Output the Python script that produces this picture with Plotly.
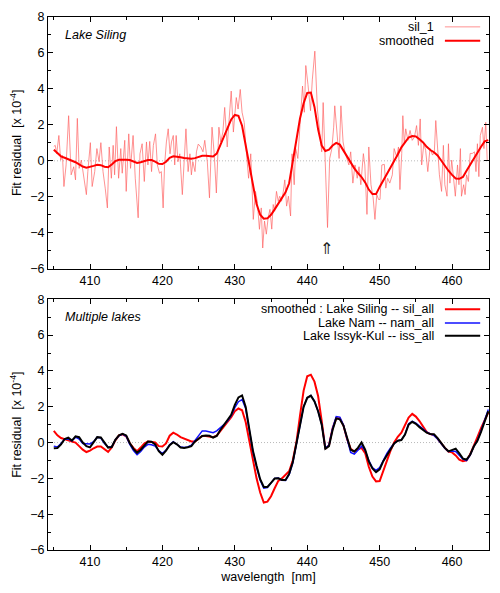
import numpy as np
import plotly.graph_objects as go

# ---- data ----
# raw fit residual, Lake Siling (sil_1), units of 1e-4
raw_wl = [405.0, 405.2, 405.4, 405.7, 405.95, 406.2, 406.4, 406.7, 407.05, 407.4, 407.75, 408.0, 408.25,
          408.5, 408.8, 409.2, 409.5, 409.7, 410.05, 410.3, 410.65, 410.95, 411.25, 411.5, 411.8, 412.1,
          412.4, 412.65, 412.95, 413.2, 413.4, 413.65, 413.95, 414.25, 414.45, 414.8, 415.0, 415.35, 415.6,
          415.95, 416.25, 416.65, 416.9, 417.2, 417.5, 417.8, 418.0, 418.25, 418.5, 418.75, 419.05, 419.3,
          419.6, 419.85, 420.1, 420.3, 420.55, 420.8, 421.05, 421.25, 421.5, 421.7, 421.9, 422.15, 422.4,
          422.75, 423.1, 423.25, 423.55, 423.8, 424.0, 424.2, 424.5, 424.7, 424.95, 425.3, 425.6, 425.85,
          426.2, 426.5, 426.85, 427.15, 427.45, 427.8, 428.05, 428.35, 428.6, 428.95, 429.15, 429.5, 429.8,
          430.2, 430.45, 430.75, 431.0, 431.3, 431.55, 431.9, 432.2, 432.55, 432.85, 433.1, 433.4, 433.65,
          433.85, 434.1, 434.35, 434.6, 434.85, 435.1, 435.3, 435.5, 435.75, 436.0, 436.2, 436.45, 436.7,
          436.9, 437.15, 437.4, 437.7, 437.9, 438.2, 438.4, 438.7, 438.85, 439.1, 439.35, 439.6, 439.8,
          440.1, 440.45, 440.7, 441.05, 441.4, 441.65, 442.0, 442.2, 442.45, 442.8, 443.1, 443.4, 443.65,
          443.8, 444.1, 444.4, 444.65, 444.95, 445.2, 445.5, 445.75, 446.0, 446.3, 446.6, 446.9, 447.15,
          447.4, 447.75, 447.95, 448.25, 448.5, 448.8, 449.1, 449.35, 449.6, 449.85, 450.05, 450.3, 450.65,
          450.85, 451.1, 451.4, 451.75, 452.0, 452.35, 452.6, 452.8, 453.05, 453.2, 453.4, 453.6, 453.9,
          454.2, 454.5, 454.8, 455.1, 455.35, 455.6, 455.8, 456.1, 456.35, 456.65, 456.95, 457.3, 457.55,
          457.75, 458.0, 458.25, 458.55, 458.8, 459.0, 459.3, 459.5, 459.7, 459.95, 460.2, 460.45, 460.75,
          460.95, 461.15, 461.3, 461.6, 461.8, 462.0, 462.25, 462.5, 462.8, 463.1, 463.3, 463.5, 463.7,
          463.9, 464.2, 464.4, 464.65, 464.85]
raw_val = [0.8, 0.86, 0.39, 1.41, 0.04, 0.3, -1.43, -0.23, 2.51, -0.78, -0.33, -1.06, 2.36,
           -0.42, 0.04, -0.97, -1.88, -0.6, 1.01, -1.43, -0.6, 0.68, -0.05, 1.01, -0.6, -1.52,
           -2.62, 0.77, -0.97, 0.86, -0.78, 1.9, -0.97, 0.68, -0.69, 1.14, -1.7, 1.5, -0.42,
           1.41, -0.97, -3.17, 0.39, 0.95, -1.15, 1.05, -0.23, 1.08, -0.6, 0.86, 1.5, -0.23,
           -0.69, -0.6, -2.62, -0.23, 1.05, 1.78, 0.39, 1.05, 1.41, -0.23, 1.41, -0.05, 0.39,
           -1.88, 1.05, 1.78, -0.6, 0.39, -0.78, -0.05, -0.6, 0.5, 0.93, 0.77, 0.5, 1.14,
           -0.05, -2.06, 1.87, 0.39, -1.79, 1.87, 1.05, 1.6, 2.97, 0.77, 1.96, 3.88, 1.6,
           3.52, 2.88, 3.97, 2.7, 2.14, 0.68, -0.97, 0.39, -3.26, -1.7, -2.25, -3.81, -2.62,
           -4.85, -3.35, -4.08, -3.17, -2.7, -3.8, -2.43, -2.8, -1.7, -2.25, -1.97, -2.25, -1.7,
           -1.06, -2.52, -1.97, -3.07, 0.39, -1.33, 0.68, 0.13, 1.23, 2.88, 4.16, 2.7, 5.3,
           4.24, 2.79, 4.5, 6.1, 2.88, 1.78, 0.5, 3.24, -0.23, -3.71, 0.13, 0.68, 1.87,
           3.06, 1.6, 0.13, 3.06, 1.05, 0.5, 0.13, -0.23, 0.5, -1.24, -0.23, -0.97, -0.33,
           -1.33, 0.4, -0.23, -2.98, 0.77, -1.33, -2.06, -3.26, -1.88, -2.15, -2.15, -0.23, -0.2,
           -1.52, -0.97, -1.24, -0.78, 0.68, 0.22, 0.77, -1.6, 0.41, 2.51, 0.95, 1.78, 1.14,
           1.69, 1.14, 1.32, 1.96, 0.86, 2.33, -0.23, 0.95, 0.59, -0.6, 0.68, 0.32, 0.5,
           2.24, 0.68, -0.78, -1.7, 0.86, -1.33, -1.97, 0.95, -1.24, 0.04, -0.97, -1.97, -0.23,
           -1.33, 0.68, -1.97, -1.33, -1.88, -0.78, -1.15, 0.41, 0.41, 0.5, -0.6, 0.95, -0.88,
           1.41, 1.87, 0.68, 2.14, 0.04]

# smoothed curves on a 0.5 nm grid
wl = np.round(np.arange(405.0, 465.01, 0.5), 1)

sil_1_smooth = [0.62, 0.42, 0.25, 0.17, 0.1, 0.02, -0.08, -0.2, -0.32, -0.38, -0.35, -0.28, -0.22, -0.24,
                -0.33, -0.36, -0.2, -0.02, 0.06, 0.07, 0.06, 0.04, -0.05, -0.12, -0.08, 0.0, 0.04, 0.04,
                -0.04, -0.17, -0.18, -0.05, 0.17, 0.25, 0.24, 0.2, 0.16, 0.13, 0.12, 0.15, 0.22, 0.28,
                0.28, 0.25, 0.24, 0.4, 0.85, 1.35, 1.85, 2.3, 2.55, 2.5, 1.95, 0.85, -0.35, -1.5,
                -2.4, -3.0, -3.22, -3.2, -3.0, -2.7, -2.4, -2.1, -1.75, -1.25, -0.1, 1.1, 2.35, 3.2,
                3.78, 3.8, 3.0, 1.75, 0.85, 0.55, 0.62, 0.85, 1.0, 0.9, 0.55, 0.2, -0.15, -0.42,
                -0.68, -0.9, -1.2, -1.6, -1.85, -1.85, -1.45, -1.1, -0.75, -0.4, -0.05, 0.35, 0.75, 1.05,
                1.3, 1.38, 1.36, 1.2, 1.02, 0.78, 0.6, 0.48, 0.3, 0.02, -0.3, -0.55, -0.78, -0.98,
                -1.0, -0.9, -0.55, -0.2, 0.15, 0.45, 0.78, 1.08, 1.15]

sil_all = [0.65, 0.4, 0.25, 0.2, 0.12, 0.05, 0.0, -0.2, -0.4, -0.53, -0.45, -0.32, -0.22, -0.22,
           -0.38, -0.52, -0.28, 0.12, 0.4, 0.46, 0.35, -0.04, -0.3, -0.48, -0.28, -0.05, 0.06, 0.04,
           0.0, -0.2, -0.22, -0.05, 0.38, 0.55, 0.45, 0.3, 0.22, 0.15, 0.06, 0.06, 0.24, 0.37,
           0.36, 0.33, 0.3, 0.39, 0.65, 0.92, 1.12, 1.42, 1.75, 1.9, 1.8, 1.15, 0.1, -0.95,
           -2.0, -2.79, -3.35, -3.3, -3.0, -2.55, -2.14, -2.0, -1.82, -1.6, -1.0, 0.0, 1.5, 2.9,
           3.7, 3.79, 3.4, 2.6, 1.2, -0.35, -0.15, 0.8, 1.35, 1.35, 0.95, 0.2, -0.35, -0.5,
           -0.38, -0.3, -0.59, -1.35, -1.9, -2.17, -2.15, -1.59, -0.95, -0.45, 0.0, 0.32, 0.55, 0.95,
           1.4, 1.6, 1.45, 1.2, 0.88, 0.58, 0.47, 0.42, 0.22, -0.05, -0.3, -0.5, -0.55, -0.72,
           -0.95, -1.04, -1.0, -0.66, -0.22, 0.3, 0.8, 1.25, 1.68]

nam_all = [-0.2, -0.25, -0.05, 0.18, 0.2, 0.1, 0.3, 0.2, -0.05, -0.08, -0.08, 0.05, 0.3, 0.25,
           -0.05, -0.25, -0.25, 0.15, 0.38, 0.47, 0.35, -0.1, -0.45, -0.68, -0.5, -0.25, -0.1, -0.12,
           -0.2, -0.45, -0.62, -0.42, -0.12, 0.05, -0.08, -0.25, -0.28, -0.25, -0.15, 0.12, 0.4, 0.65,
           0.65, 0.6, 0.55, 0.65, 0.8, 1.0, 1.2, 1.5, 1.95, 2.28, 2.4, 1.9, 0.7, -0.5,
           -1.35, -2.1, -2.55, -2.52, -2.25, -2.0, -1.98, -2.1, -2.12, -1.8, -1.15, -0.1, 1.15, 2.0,
           2.5, 2.62, 2.32, 1.75, 1.0, -0.3, -0.15, 0.8, 1.45, 1.42, 0.98, 0.15, -0.55, -0.65,
           -0.45, -0.2, -0.45, -1.0, -1.4, -1.55, -1.4, -0.95, -0.6, -0.3, -0.05, 0.1, 0.15, 0.45,
           1.05, 1.18, 1.08, 0.92, 0.76, 0.58, 0.48, 0.4, 0.2, -0.05, -0.32, -0.5, -0.47, -0.5,
           -0.7, -0.92, -1.0, -0.7, -0.22, 0.12, 0.65, 1.25, 1.85]

iss_all = [-0.32, -0.3, -0.1, 0.2, 0.27, 0.11, 0.35, 0.3, 0.0, -0.2, -0.27, 0.0, 0.3, 0.28,
           0.0, -0.28, -0.25, 0.15, 0.4, 0.49, 0.4, -0.04, -0.35, -0.57, -0.4, -0.15, 0.06, 0.05,
           -0.1, -0.48, -0.68, -0.45, -0.15, 0.02, -0.1, -0.28, -0.3, -0.26, -0.2, 0.06, 0.24, 0.37,
           0.4, 0.38, 0.28, 0.37, 0.7, 0.98, 1.2, 1.55, 2.1, 2.52, 2.63, 1.99, 0.75, -0.45,
           -1.3, -2.05, -2.48, -2.48, -2.25, -2.01, -2.0, -2.09, -2.09, -1.75, -1.1, -0.1, 1.1, 1.99,
           2.5, 2.62, 2.3, 1.75, 1.0, -0.35, -0.2, 0.7, 1.35, 1.3, 0.95, 0.2, -0.4, -0.5,
           -0.3, 0.0, -0.4, -1.05, -1.45, -1.65, -1.5, -1.04, -0.7, -0.35, -0.05, 0.1, 0.14, 0.45,
           1.0, 1.16, 1.05, 0.86, 0.72, 0.55, 0.47, 0.46, 0.25, -0.05, -0.3, -0.49, -0.4, -0.34,
           -0.6, -0.9, -0.95, -0.68, -0.22, 0.1, 0.6, 1.2, 1.75]

y_ticks = [-6, -4, -2, 0, 2, 4, 6, 8]
x_ticks = [410, 420, 430, 440, 450, 460]

FONT = "Liberation Sans, Arial, sans-serif"
NB = "\u00a0"
RAW_COLOR = "rgba(255,100,100,0.7)"

fig = go.Figure()

# top panel
fig.add_trace(go.Scatter(x=raw_wl, y=raw_val, mode="lines", name="sil_1",
                         line=dict(color=RAW_COLOR, width=1), xaxis="x", yaxis="y"))
fig.add_trace(go.Scatter(x=wl, y=sil_1_smooth, mode="lines", name="smoothed",
                         line=dict(color="#ff0000", width=2), xaxis="x", yaxis="y"))

# bottom panel
fig.add_trace(go.Scatter(x=wl, y=sil_all, mode="lines", name="smoothed : Lake Siling -- sil_all",
                         line=dict(color="#ff0000", width=2), xaxis="x2", yaxis="y2"))
fig.add_trace(go.Scatter(x=wl, y=nam_all, mode="lines", name="Lake Nam -- nam_all",
                         line=dict(color="#1010ff", width=1.5), xaxis="x2", yaxis="y2"))
fig.add_trace(go.Scatter(x=wl, y=iss_all, mode="lines", name="Lake Issyk-Kul -- iss_all",
                         line=dict(color="#000000", width=2), xaxis="x2", yaxis="y2"))

axis_common = dict(showline=True, linecolor="black", linewidth=1, mirror="allticks",
                   ticks="inside", ticklen=5, tickcolor="black", showgrid=False, zeroline=False,
                   tickfont=dict(family=FONT, size=12.5, color="black"))
xr = [404.2, 465.1]
yr = [-6, 8]
ytitle = "Fit residual" + NB + NB + "[x 10<sup>-4</sup>]"

# page body adds an 8 px offset, so the margins are shifted to compensate
fig.update_layout(
    width=500, height=593,
    margin=dict(l=40, r=19, t=2, b=51),
    paper_bgcolor="white", plot_bgcolor="white",
    showlegend=False,
    font=dict(family=FONT, size=12.5, color="black"),
    xaxis=dict(domain=[0, 1], anchor="y", range=xr, tickvals=x_ticks,
               minor=dict(ticks="inside", ticklen=3, dtick=5, tick0=405, tickcolor="black"),
               **axis_common),
    yaxis=dict(domain=[0.5278, 1.0], anchor="x", range=yr, tickvals=y_ticks,
               minor=dict(ticks="inside", ticklen=3, dtick=1, tickcolor="black"),
               title=dict(text=ytitle, font=dict(family=FONT, size=12.5), standoff=6),
               **axis_common),
    xaxis2=dict(domain=[0, 1], anchor="y2", range=xr, tickvals=x_ticks,
                minor=dict(ticks="inside", ticklen=3, dtick=5, tick0=405, tickcolor="black"),
                title=dict(text="wavelength" + NB + NB + "[nm]", font=dict(family=FONT, size=12.5),
                           standoff=4),
                **axis_common),
    yaxis2=dict(domain=[0.0, 0.4704], anchor="x2", range=yr, tickvals=y_ticks,
                minor=dict(ticks="inside", ticklen=3, dtick=1, tickcolor="black"),
                title=dict(text=ytitle, font=dict(family=FONT, size=12.5), standoff=6),
                **axis_common),
)

# fine dotted zero lines
for xref_, yref_ in [("x domain", "y"), ("x2 domain", "y2")]:
    fig.add_shape(type="line", xref=xref_, yref=yref_, x0=0, x1=1, y0=0, y1=0, layer="below",
                  line=dict(color="#a8a8a8", width=0.8, dash="1px,2px"))

# panel labels
fig.add_annotation(xref="paper", yref="paper", x=0.0348, y=0.9667, xanchor="left", yanchor="middle",
                   text="<i>Lake Siling</i>", showarrow=False, font=dict(family=FONT, size=12.5))
fig.add_annotation(xref="paper", yref="paper", x=0.0348, y=0.437, xanchor="left", yanchor="middle",
                   text="<i>Multiple lakes</i>", showarrow=False, font=dict(family=FONT, size=12.5))

# marker arrow under the 442.7 nm feature
fig.add_annotation(xref="x", yref="y", x=442.7, y=-4.85, text="⇑", showarrow=False,
                   font=dict(family="DejaVu Sans", size=16, color="#222222"))

# gnuplot-style keys: text right-aligned, line sample to its right
def key(entries):
    for label, ypos, color, width in entries:
        fig.add_annotation(xref="paper", yref="paper", x=0.880, y=ypos, xanchor="right",
                           yanchor="middle", text=label, showarrow=False,
                           font=dict(family=FONT, size=12.5))
        fig.add_shape(type="line", xref="paper", yref="paper", x0=0.900, x1=0.980, y0=ypos, y1=ypos,
                      line=dict(color=color, width=width))

key([("sil_1", 0.9815, RAW_COLOR, 1),
     ("smoothed", 0.9556, "#ff0000", 2)])
key([("smoothed : Lake Siling -- sil_all", 0.4519, "#ff0000", 2),
     ("Lake Nam -- nam_all", 0.4259, "#1010ff", 1.5),
     ("Lake Issyk-Kul -- iss_all", 0.4019, "#000000", 2)])

fig.write_html("out.html")
